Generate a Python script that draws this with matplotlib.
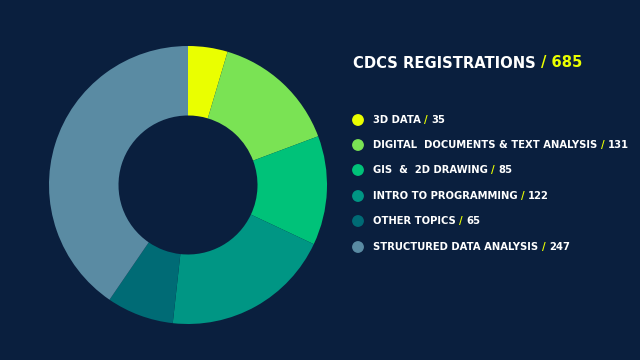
import matplotlib.pyplot as plt
from matplotlib.patches import Circle

categories = ["3D DATA", "DIGITAL  DOCUMENTS & TEXT ANALYSIS", "GIS  &  2D DRAWING",
              "INTRO TO PROGRAMMING", "OTHER TOPICS", "STRUCTURED DATA ANALYSIS"]
counts = [35, 131, 85, 122, 65, 247]
# slice sizes as drawn in the picture (percent of the ring), they don't follow counts exactly
slice_pct = [4.6, 14.7, 12.7, 19.75, 7.8, 40.45]
colors = ["#eaff00", "#7ae354", "#00c279", "#009684", "#006b75", "#5a8ba3"]
title = "CDCS REGISTRATIONS"

bg = "#0a1f3e"
yellow = "#eaff00"
W, H = 640, 360

fig = plt.figure(figsize=(6.4, 3.6), dpi=100, facecolor=bg)

# donut
cx, cy, r = 188, 185, 139
ax = fig.add_axes([(cx - r) / W, (H - cy - r) / H, 2 * r / W, 2 * r / H])
ax.set_facecolor(bg)
ax.pie(slice_pct, colors=colors, startangle=90, counterclock=False, radius=1,
       wedgeprops=dict(width=0.5, linewidth=0))
ax.set_xlim(-1, 1)
ax.set_ylim(-1, 1)
ax.set_aspect("equal")
ax.axis("off")

renderer = fig.canvas.get_renderer()


def runs(x, y, parts, size, weight="bold"):
    # draw consecutive coloured pieces of text starting at pixel x
    for s, c in parts:
        t = fig.text(x / W, 1 - y / H, s, color=c, fontsize=size, fontweight=weight,
                     family="DejaVu Sans", va="center", ha="left")
        bb = t.get_window_extent(renderer)
        x += bb.width


runs(353, 63, [(title + " ", "white"), ("/ " + str(sum(counts)), yellow)], 10.6, "heavy")

ys = [120, 145, 170, 196, 221, 247]
for name, n, c, y in zip(categories, counts, colors, ys):
    fig.patches.append(Circle((358, H - y), 5.2, color=c, transform=None, figure=fig))
    runs(373, y, [(name + " ", "white"), ("/ ", yellow), (str(n), "white")], 7.2)

fig.savefig("out.png", dpi=100, facecolor=bg)
